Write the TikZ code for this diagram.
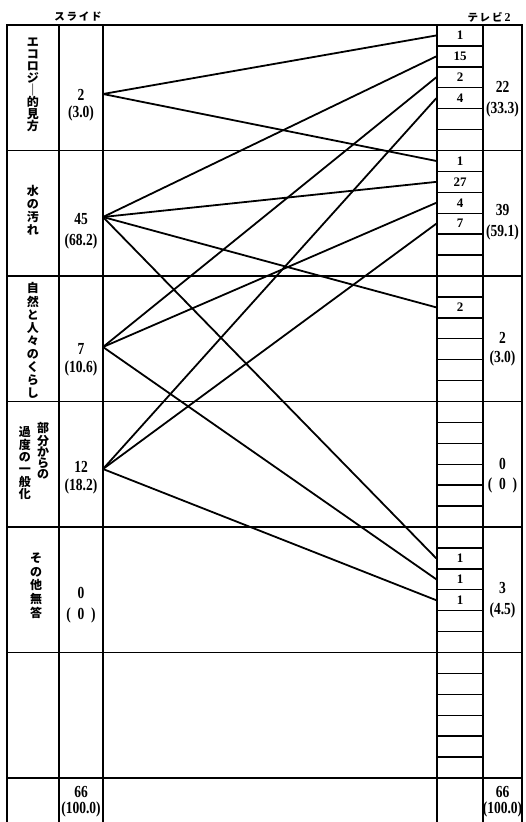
\documentclass[tikz,border=0pt]{standalone}
\usepackage{fontspec}
\setmainfont{Liberation Serif}
\newfontfamily\jp{Noto Sans CJK JP}
\usetikzlibrary{positioning}
\newcommand{\tall}[1]{\scalebox{1}[1.25]{#1}}

\begin{document}
\begin{tikzpicture}[x=1pt,y=-1pt,line width=1.4pt,
  cell/.style={draw,minimum width=46pt,minimum height=20.9pt,inner sep=0pt},
  num/.style={font=\bfseries\fontsize{13}{15}\selectfont,inner sep=0pt},
  cnt/.style={font=\bfseries\fontsize{13.5}{15}\selectfont,inner sep=0pt},
  tate/.style={font=\jp\bfseries\fontsize{12}{#1}\selectfont,align=center,inner sep=0pt,anchor=north},
  tate/.default=12.7,
  head/.style={font=\jp\bfseries\fontsize{10.5}{12}\selectfont,inner sep=0pt},
  link/.style={line width=1.8pt}]
\useasboundingbox (0,0) rectangle (526,822);

% frame and rows
\draw (7,822) -- (7,25) -- (522,25) -- (522,822);
\foreach \x in {59,103,437,483} \draw (\x,25) -- (\x,822);
\foreach \r in {1,...,6} \draw (7,{25+125.5*\r}) -- (522,{25+125.5*\r});

% headers
\node[head] (hs) at (78,17) {ス\,ラ\,イ\,ド};
\node[head] (ht) at (489,17) {テ\,レ\,ビ\hspace{2pt}{\rmfamily\bfseries\fontsize{12}{12}\selectfont 2}};

% answer cells on the right
\foreach \r in {1,...,6}
  \foreach \k in {1,...,6}
    \node[cell] (c\r\k) at (460,{25+125.5*(\r-1)+20.917*(\k-0.5)}) {};
\foreach \r/\k/\v in {1/1/1,1/2/15,1/3/2,1/4/4,2/1/1,2/2/27,2/3/4,2/4/7,3/2/2,5/2/1,5/3/1,5/4/1}
  \node[num] (v\r\k) at (c\r\k) {\v};

% category labels
\node[tate=12] (t1) at (33,37) {エ\\コ\\ロ\\ジ\\｜\\的\\見\\方};
\node[tate] (t2) at (33,185) {水\\の\\汚\\れ};
\node[tate=13.1] (t3) at (33,282) {自\\然\\と\\人\\々\\の\\く\\ら\\し};
\node[tate=11.2] (t4a) at (43,422) {部\\分\\か\\ら\\の};
\node[tate=12.4] (t4b) at (25,426) {過\\度\\の\\一\\般\\化};
\node[tate=13.7] (t5) at (36,552) {そ\\の\\他\\無\\答};

% counts
\foreach \y/\yy/\n/\p [count=\i] in {95/113/2/(3.0),219/241/45/(68.2),349/368/7/(10.6),467/486/12/(18.2),593/615/0/(\enspace0\enspace),792/809/66/(100.0)}
  {\node[cnt] (ln\i) at (81,\y) {\tall{\n}};
   \node[cnt] (lp\i) at (81,\yy) {\tall{\p}};}
\foreach \y/\yy/\n/\p [count=\i] in {87/109/22/(33.3),210/232/39/(59.1),338/358/2/(3.0),464/485/0/(\enspace0\enspace),588/610/3/(4.5),792/809/66/(100.0)}
  {\node[cnt] (rn\i) at (502.5,\y) {\tall{\n}};
   \node[cnt] (rp\i) at (502.5,\yy) {\tall{\p}};}

% links
\coordinate (s1) at (103,94);
\coordinate (s2) at (103,217);
\coordinate (s3) at (103,347);
\coordinate (s4) at (103,469);
\foreach \s/\r/\k in {1/1/1,1/2/1,2/1/2,2/2/2,2/3/2,2/5/2,3/1/3,3/2/3,3/5/3,4/1/4,4/2/4,4/5/4}
  \draw[link] (s\s) -- (c\r\k.west);
\end{tikzpicture}
\end{document}
